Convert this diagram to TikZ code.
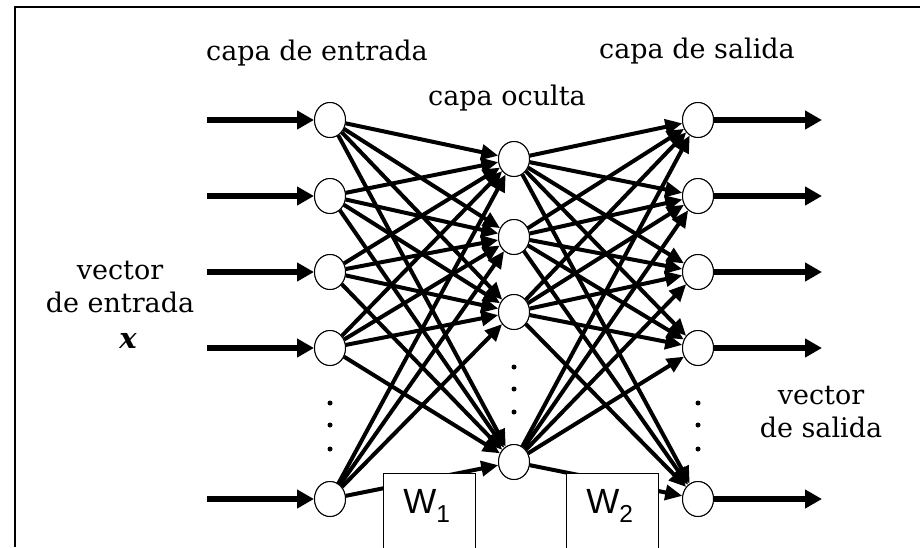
\documentclass[tikz,border=0pt]{standalone}
\usepackage{fontspec}
\setmainfont{DejaVu Serif}
\newfontfamily\wfont{Liberation Sans}
\usetikzlibrary{arrows.meta,shapes.geometric}
\tikzset{
  neuron/.style={ellipse,draw,line width=1pt,fill=white,minimum width=31pt,minimum height=35pt,inner sep=0pt},
  conn/.style={line width=4pt,-{Triangle[length=17pt,width=15pt]}},
  inarrow/.style={line width=6pt,-{Triangle[length=17pt,width=18pt]}},
  lbl/.style={font=\fontsize{27}{33}\selectfont,inner sep=0pt,align=center},
  wbox/.style={draw,line width=1.3pt,fill=white,minimum width=92pt,minimum height=80pt,anchor=north west,inner sep=0pt},
  dotstyle/.style={circle,fill,inner sep=0pt,minimum size=5pt}
}
\begin{document}
\begin{tikzpicture}[x=1pt,y=-1pt]
\useasboundingbox (0,0) rectangle (920,547);
\draw[line width=2.6pt] (15,547) -- (15,7) -- (920,7);
% input nodes
\foreach \i/\y in {1/120,2/196,3/272,4/348,5/499}{
  \node[neuron] (i\i) at (330,\y) {};
  \coordinate (s\i) at (207,\y);
}
\foreach \i/\y in {1/159,2/237,3/312,4/462}{
  \node[neuron] (h\i) at (514,\y) {};
}
\foreach \i/\y in {1/120,2/196,3/272,4/348,5/499}{
  \node[neuron] (o\i) at (698,\y) {};
  \coordinate (e\i) at (822,\y);
}
% connections
\foreach \a in {1,...,5}{
  \foreach \b in {1,...,4}{
    \draw[conn] (i\a) -- (h\b);
  }
}
\foreach \a in {1,...,4}{
  \foreach \b in {1,...,5}{
    \draw[conn] (h\a) -- (o\b);
  }
}
% redraw nodes on top
\foreach \i/\y in {1/120,2/196,3/272,4/348,5/499}{
  \node[neuron] at (330,\y) {};
  \node[neuron] at (698,\y) {};
}
\foreach \i/\y in {1/159,2/237,3/312,4/462}{
  \node[neuron] at (514,\y) {};
}
% input/output arrows
\foreach \i in {1,...,5}{
  \draw[inarrow] (s\i) -- (i\i.west);
  \draw[inarrow] (o\i.east) -- (e\i);
}
% dots
\foreach \y in {403,425,449}{
  \node[dotstyle] (di\y) at (330,\y) {};
  \node[dotstyle] (do\y) at (698,\y) {};
}
\foreach \y in {367,389,412}{
  \node[dotstyle] (dh\y) at (514,\y) {};
}
% weight boxes
\node[wbox] (w1) at (383,473) {};
\node[wbox] (w2) at (566,473) {};
\node[font=\wfont\fontsize{35}{35}\selectfont,inner sep=0pt] (w1t) at (427,506) {W\textsubscript{1}};
\node[font=\wfont\fontsize{35}{35}\selectfont,inner sep=0pt] (w2t) at (610,506) {W\textsubscript{2}};
% labels
\node[lbl] (l1) at (317,53) {capa de entrada};
\node[lbl] (l2) at (507,98) {capa oculta};
\node[lbl] (l3) at (697,51) {capa de salida};
\node[lbl] (l4) at (120,287) {vector\\de entrada};
\node[font=\fontsize{29}{30}\selectfont\bfseries\itshape,inner sep=0pt] (l5) at (128,341) {x};
\node[lbl] (l6) at (821,412) {vector\\de salida};
\end{tikzpicture}
\end{document}
